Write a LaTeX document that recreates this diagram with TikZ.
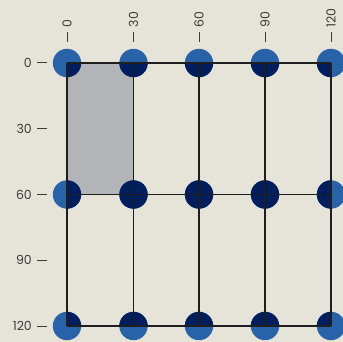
\documentclass[tikz,border=0pt]{standalone}
\usepackage{fontspec}
\setmainfont{Poppins}
\definecolor{bg}{HTML}{E6E4D9}
\definecolor{cellgrey}{HTML}{B3B4B8}
\definecolor{dotblue}{HTML}{2862A8}
\definecolor{dotdark}{HTML}{001D5E}
\definecolor{ink}{HTML}{3C3C3C}
\definecolor{gridink}{HTML}{1E1E1E}
\tikzset{
  dot/.style={circle,fill=dotblue,minimum size=28.4pt,inner sep=0pt},
  darkdot/.style={fill=dotdark},
  gridline/.style={draw=gridink,line width=1.4pt},
  tickmark/.style={draw=ink,line width=1pt},
  ticklabel/.style={text=ink,font=\fontsize{12.5}{14}\selectfont,inner sep=0pt},
}
\begin{document}
\begin{tikzpicture}[x=1pt,y=-1pt]
\fill[bg] (0,0) rectangle (343,342);
\useasboundingbox (0,0) rectangle (343,342);
% grey cell
\coordinate (g0) at (67,63);
\coordinate (g1) at (133.5,194.5);
\fill[cellgrey] (g0) rectangle (g1);
% dots
\foreach \i/\x in {0/67,1/133.5,2/199,3/265,4/331}{
  \foreach \j/\y in {0/63,1/194.5,2/326}{
    \node[dot] (c\i\j) at (\x,\y) {};
  }
}
% dark parts of dots inside the grid
\begin{scope}
  \clip (c00.center) rectangle (c42.center);
  \foreach \i in {0,...,4}{
    \foreach \j in {0,1,2}{
      \fill[darkdot] (c\i\j.center) circle[radius=14.2pt];
    }
  }
\end{scope}
% grid lines
\foreach \i in {0,...,4}{
  \draw[gridline] (c\i0.center) -- (c\i2.center);
}
\foreach \j in {0,1,2}{
  \draw[gridline] (c0\j.center) -- (c4\j.center);
}
% top axis ticks and labels
\foreach \i/\x/\t in {0/67/0,1/133.5/30,2/199/60,3/265/90,4/331/120}{
  \coordinate (tt\i a) at (\x,32);
  \coordinate (tt\i b) at (\x,42);
  \draw[tickmark] (tt\i a) -- (tt\i b);
  \node[ticklabel,rotate=90,anchor=west] (tl\i) at (\x,27.5) {\t};
}
% left axis ticks and labels
\foreach \j/\y/\t in {0/63/0,1/129/30,2/194.5/60,3/260/90,4/326/120}{
  \coordinate (lt\j a) at (37,\y);
  \coordinate (lt\j b) at (47,\y);
  \draw[tickmark] (lt\j a) -- (lt\j b);
  \node[ticklabel,anchor=east] (ll\j) at (32,\y) {\t};
}
\end{tikzpicture}
\end{document}
